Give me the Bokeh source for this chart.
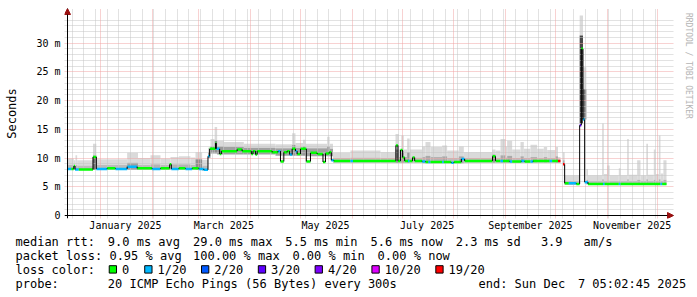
import re
import numpy as np
import pandas as pd
from bokeh.plotting import figure
from bokeh.models import Range1d, FixedTicker, Grid, Arrow, NormalHead, Span
from bokeh.layouts import column, row
from bokeh.embed import file_html
from bokeh.resources import INLINE
from bokeh.core.properties import value

nan = float("nan")

# ---------------- data ----------------
range_start = "2024-12-12 05:02:45"
range_end = "2025-12-07 05:02:45"
data_end = "2025-12-06 15:00"

median_time = [
    "2024-12-12 05:00", "2024-12-14 12:00", "2024-12-16 00:00", "2024-12-16 18:00", "2024-12-19 00:00",
    "2024-12-27 12:00", "2024-12-29 12:00", "2025-01-05 00:00", "2025-01-10 00:00", "2025-01-17 00:00",
    "2025-01-23 00:00", "2025-02-01 00:00", "2025-02-06 00:00", "2025-02-11 12:00", "2025-02-12 12:00",
    "2025-02-17 00:00", "2025-02-21 00:00", "2025-02-25 00:00", "2025-03-01 00:00", "2025-03-04 00:00",
    "2025-03-06 12:00", "2025-03-07 12:00", "2025-03-11 00:00", "2025-03-11 12:00", "2025-03-13 12:00",
    "2025-03-14 12:00", "2025-03-24 00:00", "2025-03-27 00:00", "2025-04-01 12:00", "2025-04-02 12:00",
    "2025-04-04 00:00", "2025-04-05 00:00", "2025-04-14 00:00", "2025-04-17 12:00", "2025-04-19 00:00",
    "2025-04-21 00:00", "2025-04-23 00:00", "2025-04-24 12:00", "2025-04-26 00:00", "2025-04-28 00:00",
    "2025-04-29 00:00", "2025-05-01 00:00", "2025-05-04 12:00", "2025-05-07 00:00", "2025-05-11 00:00",
    "2025-05-14 12:00", "2025-05-16 00:00", "2025-05-18 06:00", "2025-05-19 12:00", "2025-05-21 00:00",
    "2025-05-31 00:00", "2025-06-01 12:00", "2025-06-27 06:00", "2025-06-28 12:00", "2025-06-30 00:00",
    "2025-07-01 06:00", "2025-07-02 12:00", "2025-07-04 12:00", "2025-07-05 12:00", "2025-07-07 06:00",
    "2025-07-08 12:00", "2025-07-13 00:00", "2025-07-15 00:00", "2025-07-16 18:00", "2025-07-18 00:00",
    "2025-07-25 00:00", "2025-07-26 00:00", "2025-07-30 12:00", "2025-08-01 00:00", "2025-08-05 12:00",
    "2025-08-07 12:00", "2025-08-24 06:00", "2025-08-26 00:00", "2025-08-29 00:00", "2025-08-30 12:00",
    "2025-09-03 12:00", "2025-09-05 00:00", "2025-09-10 12:00", "2025-09-12 12:00", "2025-09-16 00:00",
    "2025-09-17 12:00", "2025-09-27 12:00", "2025-09-29 00:00", "2025-10-02 12:00", "2025-10-04 00:00",
    "2025-10-05 12:00", "2025-10-06 12:00", "2025-10-09 00:00", "2025-10-13 12:00", "2025-10-15 12:00",
    "2025-10-16 12:00", "2025-10-17 12:00", "2025-10-18 12:00", "2025-10-20 12:00", "2025-10-29 12:00",
    "2025-10-30 12:00", "2025-11-08 00:00", "2025-11-09 00:00", "2025-12-03 00:00", "2025-12-04 00:00",
]
median_ms = [
    8.1, 8.1, 8.6, 8.0, 8.0,
    10.2, 8.1, 8.2, 8.1, 8.5,
    8.2, 8.1, 8.2, 8.9, 8.1,
    8.2, 8.1, 8.2, 8.1, 7.95,
    10.3, 11.6, 12.6, 11.6, 10.7,
    11.2, 11.5, 11.2, 10.7, 11.2,
    10.6, 11.2, 11.0, 11.2, 9.4,
    11.0, 11.2, 10.6, 11.6, 11.2,
    10.7, 11.6, 9.4, 10.9, 10.7,
    9.3, 10.8, 11.0, 9.6, 9.5,
    9.5, 9.5, 12.2, 9.5, 11.4,
    10.1, 9.5, 9.5, 9.5, 10.1,
    9.5, 9.4, 9.3, 9.3, 9.3,
    9.3, 9.3, 9.2, 9.3, 9.85,
    9.5, 10.3, 9.5, 9.5, 9.5,
    9.4, 9.4, 9.5, 9.4, 9.4,
    9.5, 9.5, 9.5, 9.5, nan,
    8.9, 5.6, 5.6, 5.5, 15.7,
    29.0, 16.7, 5.8, 5.5, 5.5,
    5.5, 5.5, 5.5, 5.5, 5.5,
]
median_loss = [
    1, 0, 0, 1, 0,
    0, 1, 0, 1, 1,
    0, 1, 0, 0, 1,
    0, 1, 0, 1, 1,
    1, 0, 0, 1, 0,
    0, 0, 0, 0, 0,
    0, 0, 0, 1, 0,
    0, 0, 1, 0, 1,
    0, 0, 0, 0, 0,
    0, 0, 0, 1, 0,
    1, 0, 0, 0, 0,
    0, 0, 1, 0, 0,
    0, 1, 0, 1, 0,
    1, 0, 1, 0, 1,
    0, 0, 0, 1, 0,
    1, 0, 1, 0, 1,
    0, 1, 0, 6, 0,
    6, 0, 1, 0, 3,
    0, 1, 1, 0, 1,
    0, 1, 0, 1, 0,
]

smoke_time = [
    "2024-12-12 05:00", "2024-12-16 00:00", "2024-12-17 00:00", "2024-12-18 00:00", "2024-12-27 12:00",
    "2024-12-29 12:00", "2025-01-17 00:00", "2025-01-23 12:00", "2025-01-31 00:00", "2025-02-06 00:00",
    "2025-02-12 00:00", "2025-02-17 00:00", "2025-02-24 00:00", "2025-02-27 00:00", "2025-03-03 00:00",
    "2025-03-06 12:00", "2025-03-08 00:00", "2025-03-10 12:00", "2025-03-12 00:00", "2025-03-16 00:00",
    "2025-03-28 00:00", "2025-04-16 00:00", "2025-04-26 00:00", "2025-04-28 00:00", "2025-05-02 12:00",
    "2025-05-04 00:00", "2025-05-17 00:00", "2025-05-18 12:00", "2025-05-20 12:00", "2025-05-31 00:00",
    "2025-06-18 00:00", "2025-06-27 00:00", "2025-06-29 00:00", "2025-06-30 12:00", "2025-07-02 00:00",
    "2025-07-04 00:00", "2025-07-05 12:00", "2025-07-13 00:00", "2025-07-15 00:00", "2025-07-18 00:00",
    "2025-07-25 00:00", "2025-07-28 00:00", "2025-08-04 00:00", "2025-08-07 00:00", "2025-08-24 00:00",
    "2025-08-26 00:00", "2025-08-29 00:00", "2025-09-01 00:00", "2025-09-02 00:00", "2025-09-05 00:00",
    "2025-09-10 00:00", "2025-09-12 00:00", "2025-09-16 00:00", "2025-09-20 00:00", "2025-09-24 00:00",
    "2025-09-26 00:00", "2025-10-01 00:00", "2025-10-02 12:00", "2025-10-04 00:00", "2025-10-05 12:00",
    "2025-10-06 12:00", "2025-10-15 12:00", "2025-10-17 12:00", "2025-10-19 12:00", "2025-10-20 12:00",
    "2025-10-29 00:00", "2025-10-30 00:00", "2025-11-01 00:00", "2025-11-02 12:00", "2025-11-08 00:00",
    "2025-11-09 00:00", "2025-11-13 00:00", "2025-11-14 00:00", "2025-11-19 00:00", "2025-11-21 00:00",
    "2025-11-24 12:00", "2025-11-25 12:00", "2025-11-29 00:00", "2025-11-30 00:00", "2025-12-02 00:00",
    "2025-12-03 00:00", "2025-12-04 18:00",
]
smoke_lo = [
    7.9, 7.9, 7.9, 7.9, 7.9, 7.9, 7.9, 7.9, 7.9, 7.9,
    7.9, 7.9, 7.9, 7.9, 7.8, 10.0, 10.8, 10.8, 10.6, 10.6,
    10.6, 10.4, 10.4, 10.4, 10.4, 10.3, 10.3, 10.3, 9.2, 9.2,
    9.2, 9.2, 9.2, 9.2, 9.2, 9.2, 9.2, 9.1, 9.1, 9.1,
    9.1, 9.1, 9.1, 9.2, 9.2, 9.2, 9.2, 9.2, 9.2, 9.2,
    9.2, 9.2, 9.2, 9.2, 9.2, 9.2, 9.2, 9.2, nan, 8.8,
    5.3, 16.0, 16.7, 5.4, 5.3, 5.3, 5.3, 5.3, 5.3, 5.3,
    5.3, 5.3, 5.3, 5.3, 5.3, 5.3, 5.3, 5.3, 5.3, 5.3,
    5.3, 5.3,
]
smoke_core = [
    8.8, 8.7, 8.8, 8.7, 10.4, 8.8, 9.2, 8.8, 8.9, 8.8,
    8.9, 8.9, 8.8, 9.8, 8.7, 11.0, 12.0, 13.0, 12.0, 11.9,
    11.8, 11.7, 12.3, 11.8, 12.0, 11.7, 12.0, 11.6, 10.0, 10.1,
    10.0, 11.5, 10.2, 11.2, 10.2, 11.0, 10.1, 10.2, 10.4, 10.2,
    10.3, 10.0, 10.3, 10.0, 10.6, 10.0, 10.5, 10.1, 10.4, 10.0,
    10.3, 10.0, 10.2, 10.0, 10.2, 10.0, 10.3, 9.8, nan, 9.6,
    6.0, 31.3, 22.0, 6.2, 6.0, 6.3, 6.0, 6.1, 6.0, 6.1,
    6.0, 6.3, 6.0, 6.2, 6.0, 6.3, 6.0, 6.2, 6.0, 6.3,
    6.0, 6.2,
]
smoke_hi = [
    9.9, 9.6, 10.5, 9.6, 12.5, 9.8, 10.9, 10.0, 10.5, 9.9,
    10.2, 10.3, 10.1, 11.0, 9.7, 11.8, 13.3, 15.4, 13.0, 12.8,
    12.5, 12.4, 14.3, 12.6, 13.2, 12.5, 13.7, 12.5, 10.9, 11.3,
    11.0, 14.2, 11.5, 13.9, 11.5, 13.4, 11.5, 12.0, 12.8, 11.9,
    12.2, 11.3, 12.0, 11.0, 11.5, 11.3, 13.3, 12.0, 13.0, 11.5,
    12.8, 11.6, 12.3, 11.6, 11.9, 11.4, 11.9, 10.2, nan, 11.0,
    7.0, 34.8, 25.8, 8.1, 7.0, 16.0, 7.2, 8.7, 7.0, 8.2,
    7.0, 13.3, 7.1, 9.6, 7.0, 12.5, 7.1, 11.5, 7.2, 13.9,
    7.3, 9.6,
]
smoke_density = [
    0.2, 0.2, 0.2, 0.2, 0.6, 0.2, 0.35, 0.2, 0.25, 0.2,
    0.25, 0.25, 0.2, 0.45, 0.2, 0.35, 0.4, 0.45, 0.4, 0.35,
    0.35, 0.35, 0.4, 0.35, 0.4, 0.35, 0.4, 0.35, 0.2, 0.2,
    0.2, 0.45, 0.25, 0.45, 0.25, 0.4, 0.2, 0.25, 0.3, 0.25,
    0.3, 0.2, 0.3, 0.2, 0.4, 0.2, 0.3, 0.25, 0.3, 0.2,
    0.3, 0.2, 0.25, 0.2, 0.25, 0.2, 0.3, 0.2, 0.0, 0.3,
    0.2, 0.85, 0.6, 0.25, 0.2, 0.25, 0.2, 0.2, 0.2, 0.2,
    0.2, 0.25, 0.2, 0.25, 0.2, 0.25, 0.2, 0.25, 0.2, 0.25,
    0.2, 0.25,
]

loss_labels = ["0", "1/20", "2/20", "3/20", "4/20", "10/20", "19/20"]
loss_colors = ["#00ff00", "#00b8ff", "#0059ff", "#5e00ff", "#7e00ff", "#dd00ff", "#ff0000"]

y_ticks = [0, 5, 10, 15, 20, 25, 30]
y_tick_labels = ["0", "5 m", "10 m", "15 m", "20 m", "25 m", "30 m"]
x_label_months = ["2025-01-01", "2025-03-01", "2025-05-01", "2025-07-01", "2025-09-01", "2025-11-01"]
x_tick_labels = ["January 2025", "March 2025", "May 2025", "July 2025", "September 2025", "November 2025"]

stats_rtt = "median rtt:  9.0 ms avg  29.0 ms max  5.5 ms min  5.6 ms now  2.3 ms sd   3.9   am/s"
stats_loss = "packet loss: 0.95 % avg  100.00 % max  0.00 % min  0.00 % now"
loss_title = "loss color:"
probe_text = "probe:       20 ICMP Echo Pings (56 Bytes) every 300s"
end_text = "end: Sun Dec  7 05:02:45 2025"
watermark = "RRDTOOL / TOBI OETIKER"

# ---------------- helpers ----------------
DAY = 86400000.0


def ms1(s):
    return pd.Timestamp(s).value / 1e6


def msa(lst):
    return np.array([ms1(s) for s in lst])


def gray(d):
    v = int(round(224 - 180 * d))
    return "#%02x%02x%02x" % (v, v, v)


MONO = "DejaVu Sans Mono"
x0, x1 = ms1(range_start), ms1(range_end)
ymax = 34.8
per_px_x = (x1 - x0) / 600.0      # the graph area is 600 px wide
per_px_y = ymax / 200.0           # and 200 px tall
# the frame reaches a little past the graph area: room for the axis arrows,
# and the grid lines run 3 px past the axes like RRDtool's tick marks
X_EXTRA, Y_EXTRA, OVER = 6, 7, 3

p = figure(width=678, height=235,
           x_range=Range1d(x0 - OVER * per_px_x, x1 + X_EXTRA * per_px_x),
           y_range=Range1d(-OVER * per_px_y, ymax + Y_EXTRA * per_px_y),
           output_backend="svg", toolbar_location=None, title=None,
           min_border_left=64, min_border_right=5, min_border_top=8, min_border_bottom=17,
           background_fill_color="white", border_fill_color="white", outline_line_color=None)

# smoke
st = msa(smoke_time + [data_end])
lo = np.array(smoke_lo, float)
core = np.array(smoke_core, float)
hi = np.array(smoke_hi, float)
ok = np.isfinite(lo)
L, R = st[:-1][ok], st[1:][ok]
p.quad(left=L, right=R, bottom=core[ok], top=hi[ok], fill_color="#dadada", line_color=None, level="image")
p.quad(left=L, right=R, bottom=lo[ok], top=core[ok],
       fill_color=[gray(d) for d, k in zip(smoke_density, ok) if k], line_color=None, level="image")

# grids
p.xgrid.visible = False
p.ygrid.visible = False
minor_col = "#c4c4c4"
major_col = "#f0a4a4"
month_starts = [t.value / 1e6 for t in pd.date_range("2025-01-01", "2025-12-01", freq="MS")]
weeks = [t.value / 1e6 for t in pd.date_range("2024-12-15", "2025-12-06", freq="7D")]
weeks = [w for w in weeks if w not in month_starts]
y_minor = [v for v in range(1, 35) if v % 5]
p.add_layout(Grid(dimension=1, ticker=FixedTicker(ticks=y_minor), grid_line_color=minor_col, grid_line_dash="1 1"))
p.add_layout(Grid(dimension=0, ticker=FixedTicker(ticks=weeks), grid_line_color=minor_col, grid_line_dash="1 1"))
p.add_layout(Grid(dimension=1, ticker=FixedTicker(ticks=y_ticks[1:]), grid_line_color=major_col, grid_line_dash="1 1"))
p.add_layout(Grid(dimension=0, ticker=FixedTicker(ticks=month_starts), grid_line_color=major_col, grid_line_dash="1 1"))

# median line
mt = msa(median_time + [data_end])
mv = np.array(median_ms, float)
okm = np.isfinite(mv)
p.segment(x0=mt[:-1][okm], x1=mt[1:][okm], y0=mv[okm], y1=mv[okm],
          line_color=[loss_colors[k] for k, o in zip(median_loss, okm) if o], line_width=2.5)
cx, cy0, cy1 = [], [], []
for i in range(1, len(mv)):
    a, b = mv[i - 1], mv[i]
    if np.isfinite(a) and np.isfinite(b) and a != b:
        cx.append(mt[i]); cy0.append(a); cy1.append(b)
p.segment(x0=cx, x1=cx, y0=cy0, y1=cy1, line_color="black", line_width=1)

# axes (lines drawn as spans at the data origin, labels from the axes)
label_pos = [ms1(m) + 15 * DAY for m in x_label_months]
xa = p.xaxis[0]
xa.ticker = FixedTicker(ticks=label_pos)
xa.major_label_overrides = {t: s for t, s in zip(label_pos, x_tick_labels)}
xa.major_tick_line_color = None
xa.minor_tick_line_color = None
xa.major_tick_out = 0
xa.major_tick_in = 0
xa.major_label_standoff = 1
xa.major_label_text_font = MONO
xa.major_label_text_font_size = "10px"
xa.major_label_text_color = "black"
xa.axis_line_color = None

ya = p.yaxis[0]
ya.ticker = FixedTicker(ticks=y_ticks)
ya.major_label_overrides = {t: s for t, s in zip(y_ticks, y_tick_labels)}
ya.major_tick_line_color = None
ya.minor_tick_line_color = None
ya.major_tick_out = 0
ya.major_tick_in = 0
ya.major_label_standoff = 4
ya.major_label_text_font = MONO
ya.major_label_text_font_size = "10px"
ya.major_label_text_color = "black"
ya.axis_line_color = None
ya.axis_label = "Seconds"
ya.axis_label_text_font = MONO
ya.axis_label_text_font_size = "12px"
ya.axis_label_text_font_style = "normal"
ya.axis_label_text_color = "black"
ya.axis_label_standoff = 14

p.add_layout(Span(location=0, dimension="width", line_color="black", line_width=1))
p.add_layout(Span(location=x0, dimension="height", line_color="black", line_width=1))

# axis arrows
head = dict(size=6, fill_color="#9a1010", line_color="#9a1010")
p.add_layout(Arrow(x_start=x1, y_start=0, x_end=x1 + X_EXTRA * per_px_x, y_end=0, line_color="black",
                   end=NormalHead(**head)))
p.add_layout(Arrow(x_start=x0, y_start=ymax, x_end=x0, y_end=ymax + Y_EXTRA * per_px_y, line_color="black",
                   end=NormalHead(**head)))

# watermark strip on the right
w = figure(width=19, height=235, x_range=Range1d(0, 19), y_range=Range1d(235, 0),
           output_backend="svg", toolbar_location=None, title=None,
           x_axis_type=None, y_axis_type=None,
           min_border_left=0, min_border_right=0, min_border_top=0, min_border_bottom=0,
           background_fill_color="white", border_fill_color="white", outline_line_color=None)
w.text(x=[9.5], y=[5], text=[watermark], angle=-np.pi / 2, text_font=value(MONO),
       text_font_size=value("8px"), text_color="#b4b4b4", text_align="left", text_baseline="middle")

# ---------------- legend area ----------------
q = figure(width=697, height=62, x_range=Range1d(0, 697), y_range=Range1d(62, 0),
           output_backend="svg", toolbar_location=None, title=None,
           x_axis_type=None, y_axis_type=None,
           min_border_left=0, min_border_right=0, min_border_top=0, min_border_bottom=0,
           background_fill_color="white", border_fill_color="white", outline_line_color=None)
CW = 7.1
X0 = 15
rows = [6, 20, 34, 48]
tstyle = dict(text_font=value(MONO), text_font_size=value("12px"), text_color="black",
              text_baseline="middle", text_align="left")

tx, ty, tt = [], [], []


def put(line, xstart, yrow):
    # monospace layout: every run of text keeps its own column
    for m in re.finditer(r"\S+(?: \S+)*", line):
        tx.append(xstart + m.start() * CW)
        ty.append(yrow)
        tt.append(m.group(0))


put(stats_rtt, X0, rows[0])
put(stats_loss, X0, rows[1])
put(loss_title, X0, rows[2])
put(probe_text, X0, rows[3])
put(end_text, 478, rows[3])

col = 13
sq_l, sq_r = [], []
for lab in loss_labels:
    sq_l.append(X0 + (col + 0.2) * CW)
    sq_r.append(X0 + (col + 0.2) * CW + 7.3)
    tx.append(X0 + (col + 2) * CW)
    ty.append(rows[2])
    tt.append(lab)
    col += len(lab) + 4
q.text(x=tx, y=ty, text=tt, **tstyle)
q.quad(left=sq_l, right=sq_r, top=[rows[2] - 3.8] * 7, bottom=[rows[2] + 3.6] * 7,
       fill_color=loss_colors, line_color="black", line_width=1)

open("out.html", "w").write(file_html(column(row(p, w), q), INLINE))
